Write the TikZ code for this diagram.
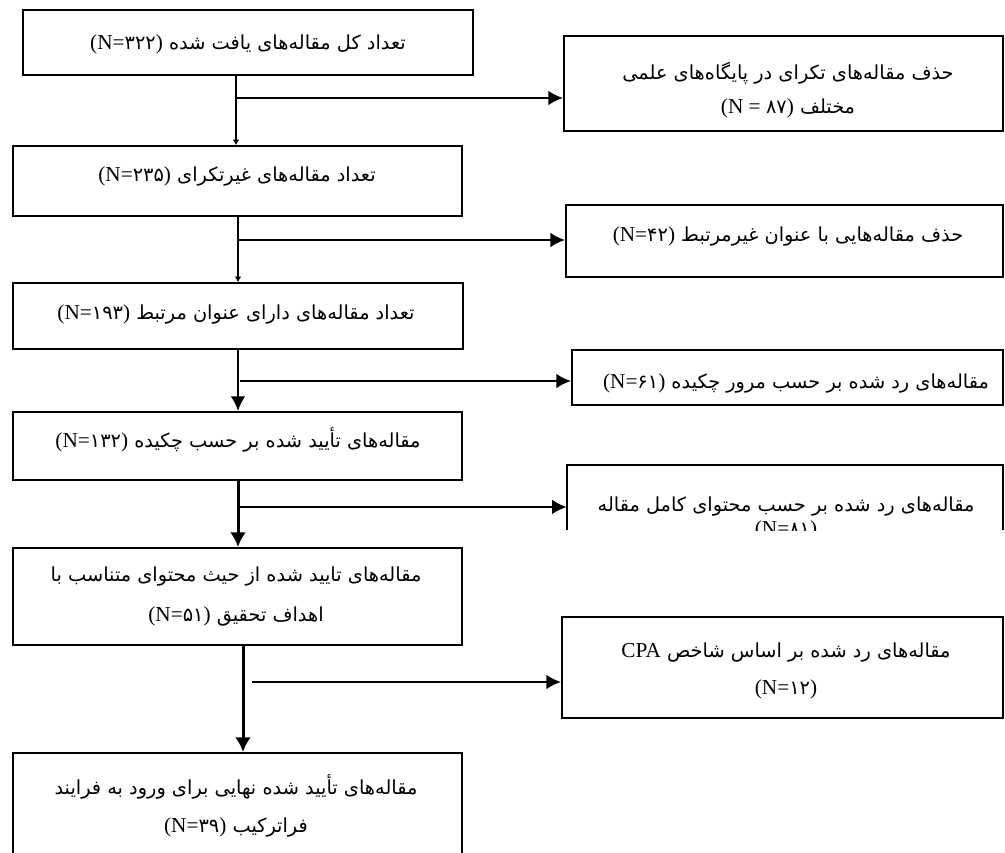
\documentclass[tikz,border=0pt]{standalone}
\usepackage{fontspec}
\newfontfamily\fa[Script=Arabic]{DejaVu Sans}
\newfontfamily\lat[Scale=1.1]{Liberation Serif}
\TeXXeTstate=1
\usetikzlibrary{arrows.meta,fit}
\newcommand\Nval[1]{\beginL{\lat(N=}{\fa #1}{\lat)}\endL}
\tikzset{
  box/.style={draw, line width=1.5pt, inner sep=0pt, rectangle},
  txt/.style={inner sep=0pt, align=center, font={\fontsize{14.5}{28}\selectfont\fa}},
  conn/.style={line width=1.5pt, -{Latex[length=11pt,width=11pt]}},
  thin conn/.style={line width=1.5pt, -{Latex[length=4pt,width=5pt]}},
  thick conn/.style={line width=2.25pt, -{Latex[length=11pt,width=12pt]}},
}
\begin{document}
\begin{tikzpicture}[x=0.75pt,y=-0.75pt]
\useasboundingbox (0,0) rectangle (1005,852);
% left boxes
\node[box, fit={(23,10) (473,75)}] (L1) {};
\node[box, fit={(13,146) (462,216)}] (L2) {};
\node[box, fit={(13,283) (463,349)}] (L3) {};
\node[box, fit={(13,412) (462,480)}] (L4) {};
\node[box, fit={(13,548) (462,645)}] (L5) {};
\node[box, fit={(13,753) (462,870)}] (L6) {};
% right boxes
\node[box, fit={(564,36) (1003,131)}] (R1) {};
\node[box, fit={(566,205) (1003,277)}] (R2) {};
\node[box, fit={(572,350) (1003,405)}] (R3) {};
\node[inner sep=0pt, fit={(567,465) (1003,530)}] (R4) {};
\draw[line width=1.5pt] (R4.south west) -- (R4.north west) -- (R4.north east) -- (R4.south east);
\node[box, fit={(562,617) (1003,718)}] (R5) {};
% texts
\node[txt] (t1) at (248,44) {\beginR تعداد کل مقاله‌های یافت شده \Nval{۳۲۲}\endR};
\node[txt] (t2) at (237,176) {\beginR تعداد مقاله‌های غیرتکرای \Nval{۲۳۵}\endR};
\node[txt] (t3) at (236,314) {\beginR تعداد مقاله‌های دارای عنوان مرتبط \Nval{۱۹۳}\endR};
\node[txt] (t4) at (238,440) {\beginR مقاله‌های تأیید شده بر حسب چکیده \Nval{۱۳۲}\endR};
\node[txt, font={\fontsize{14.5}{30}\selectfont\fa}] (t5) at (236,597) {\beginR مقاله‌های تایید شده از حیث محتوای متناسب با\endR\\\beginR اهداف تحقیق \Nval{۵۱}\endR};
\node[txt] (t6) at (236,806) {\beginR مقاله‌های تأیید شده نهایی برای ورود به فرایند\endR\\\beginR فراترکیب \Nval{۳۹}\endR};
\node[txt, font={\fontsize{14.5}{26}\selectfont\fa}] (r1) at (788,90) {\beginR حذف مقاله‌های تکرای در پایگاه‌های علمی\endR\\\beginR مختلف \beginL{\lat(N = }{\fa ۸۷}{\lat)}\endL\endR};
\node[txt] (r2) at (788,236) {\beginR حذف مقاله‌هایی با عنوان غیرمرتبط \Nval{۴۲}\endR};
\node[txt] (r3) at (796,383) {\beginR مقاله‌های رد شده بر حسب مرور چکیده \Nval{۶۱}\endR};
\begin{scope}
\clip (560,460) rectangle (1005,530);
\node[txt, font={\fontsize{14.5}{18}\selectfont\fa}] (r4) at (786,518) {\beginR مقاله‌های رد شده بر حسب محتوای کامل مقاله\endR\\\beginR\Nval{۸۱}\endR};
\end{scope}
\node[txt] (r5) at (786,671) {\beginR مقاله‌های رد شده بر اساس شاخص \beginL{\lat CPA}\endL\endR\\\beginR\Nval{۱۲}\endR};
% vertical connectors
\coordinate (v1) at (236,0);
\coordinate (v2) at (238,0);
\coordinate (v5) at (243,0);
\draw[thin conn] (v1 |- L1.south) -- (v1 |- L2.north);
\draw[thin conn] (v2 |- L2.south) -- (v2 |- L3.north);
\draw[conn] (v2 |- L3.south) -- (v2 |- L4.north);
\draw[thick conn] (v2 |- L4.south) -- (v2 |- L5.north);
\draw[thick conn] (v5 |- L5.south) -- (v5 |- L6.north);
% branches
\coordinate (b1) at (237,98);
\coordinate (b2) at (238,240);
\coordinate (b3) at (240,381);
\coordinate (b4) at (240,507);
\coordinate (b5) at (252,682);
\draw[conn] (b1) -- (b1 -| R1.west);
\draw[conn] (b2) -- (b2 -| R2.west);
\draw[conn] (b3) -- (b3 -| R3.west);
\draw[conn] (b4) -- (b4 -| R4.west);
\draw[conn] (b5) -- (b5 -| R5.west);
\end{tikzpicture}
\end{document}
